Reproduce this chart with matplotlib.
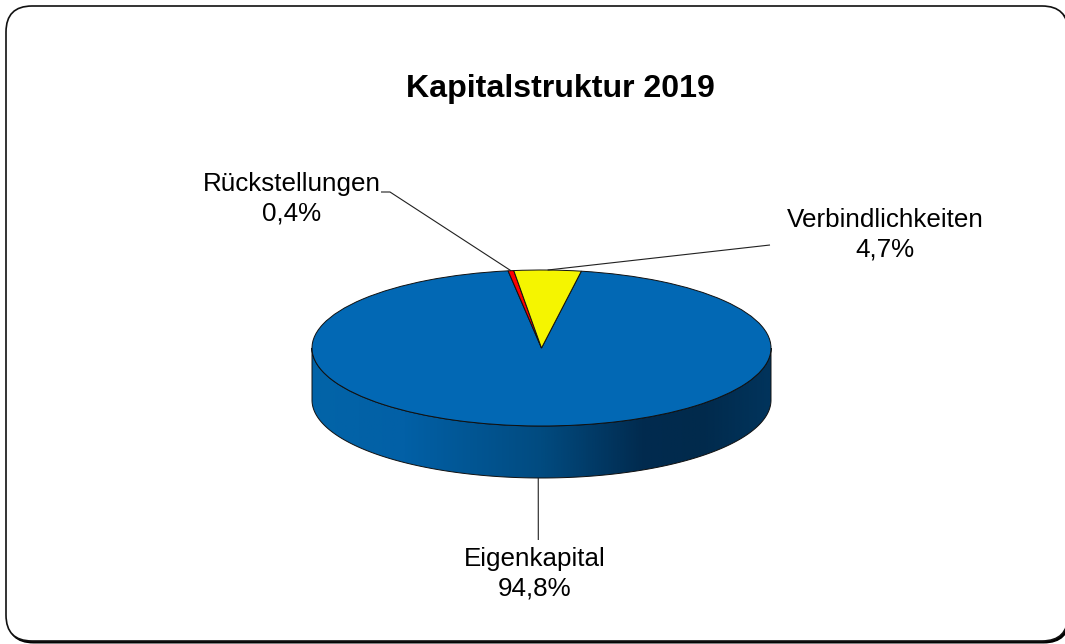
import numpy as np
import matplotlib
matplotlib.use("Agg")
import matplotlib.pyplot as plt
from matplotlib.colors import LinearSegmentedColormap
from matplotlib.patches import FancyBboxPatch, PathPatch
from matplotlib.path import Path

plt.rcParams['font.family'] = ['Liberation Sans', 'DejaVu Sans']

title = "Kapitalstruktur 2019"
categories = ["Eigenkapital", "Rückstellungen", "Verbindlichkeiten"]
values = [94.8, 0.4, 4.7]
colors = ["#0268B4", "#FF0000", "#F5F500"]

W, H = 1065, 644
CX, CY, RX, RY, DEPTH = 541.5, 348.0, 229.5, 78.0, 52.0
START = 80.0  # degrees of the first slice edge

fig = plt.figure(figsize=(W / 100, H / 100), dpi=100, facecolor="white")
ax = fig.add_axes([0, 0, 1, 1])


def P(px, py):
    """Pixel position on the canvas -> pie coordinates (radius = 1)."""
    return (px - CX) / RX, (CY - py) / RY


ax.pie(values, colors=colors, startangle=START, counterclock=False, radius=1,
       wedgeprops=dict(edgecolor="#101010", linewidth=0.7, zorder=5))
ax.set_aspect("auto")
ax.set_frame_on(False)

# panel frame drawn in display pixels
for off, fc, ec, lw, z in [((1.6, 1.8), "black", "black", 1.0, 0),
                           ((0, 0), "white", "#111111", 1.2, 1)]:
    fig.add_artist(FancyBboxPatch(
        (6 + off[0], H - 641 - off[1]), 1062, 635,
        boxstyle="round,pad=0,rounding_size=26",
        transform=None, fc=fc, ec=ec, lw=lw, zorder=z - 5))
ax.patch.set_alpha(0)

# side wall of the disc, shaded from left to right
d = DEPTH / RY
t = np.linspace(np.pi, 2 * np.pi, 300)
xs = np.cos(t)
ys = np.sin(t)
verts = np.r_[np.c_[xs, ys], np.c_[xs[::-1], ys[::-1] - d], [[xs[0], ys[0]]]]
wall = Path(verts, closed=True)
cmap = LinearSegmentedColormap.from_list(
    "wall", [(0, "#0264A8"), (0.2, "#0260A6"), (0.5, "#014B80"),
             (0.72, "#012B4F"), (0.85, "#012A4C"), (1, "#01345C")])
im = ax.imshow(np.linspace(0, 1, 512)[None, :], cmap=cmap, aspect="auto",
               extent=(-1, 1, -1 - d, 0), zorder=2)
outline = PathPatch(wall, fc="none", ec="#101010", lw=0.7, zorder=3)
ax.add_patch(outline)
im.set_clip_path(outline)

ax.set_xlim(P(0, 0)[0], P(W, 0)[0])
ax.set_ylim(P(0, H)[1], P(0, 0)[1])
ax.set_xticks([])
ax.set_yticks([])

# leader lines start on the rim at each slice's middle angle
edges = START - np.cumsum([0] + values) / sum(values) * 360
mids = np.radians((edges[:-1] + edges[1:]) / 2)
label_px = [(535, 573.5), (292, 198.5), (885, 235)]
elbows = [[(538.3, 540)], [(390, 192), (381, 192)], [(770, 245)]]
for m, el, (lx, ly), v, name in zip(mids, elbows, label_px, values, categories):
    ax0 = [(np.cos(m), np.sin(m) - (d if name == "Eigenkapital" else 0))]
    pts = ax0 + [P(*e) for e in el]
    ax.plot(*zip(*pts), color="#202020", lw=0.8, zorder=6, solid_capstyle="butt")
    ax.text(*P(lx, ly), f"{name}\n{v:.1f}%".replace(".", ","), ha="center", va="center",
            fontsize=18.7, color="black", linespacing=1.27, zorder=7)

ax.text(*P(560.5, 89), title, ha="center", va="center", fontsize=23.1,
        fontweight="bold", color="black", zorder=7)

fig.savefig("out.png", dpi=100, facecolor="white")
